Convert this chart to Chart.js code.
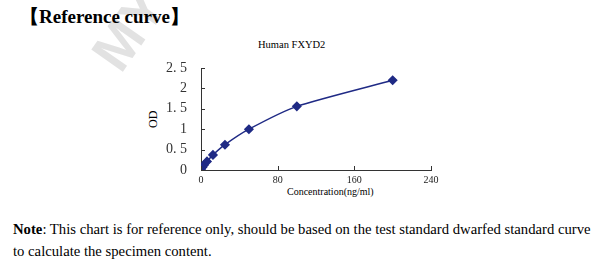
<!DOCTYPE html>
<html>
<head>
<meta charset="utf-8">
<script src="https://cdn.jsdelivr.net/npm/chart.js@4"></script>
<style>
  body { margin: 0; background: #fff; width: 600px; height: 273px; overflow: hidden; position: relative; font-family: "Liberation Serif", serif; }
  #wrap { position: absolute; left: 0; top: 0; width: 600px; height: 273px; }
  .txt { position: absolute; white-space: nowrap; color: #000; }
  #mark { position: absolute; left: 128px; top: 24px; font: bold 56px/56px "Liberation Sans", sans-serif; color: #e2e2e2; transform: rotate(-55deg); transform-origin: 0 100%; }
</style>
</head>
<body>
<div id="mark">MY</div>
<div class="txt" style="left:20px; top:4px; font-weight:bold; font-size:19px;">【Reference curve】</div>
<div class="txt" style="left:258px; top:39px; font-size:10.5px;">Human FXYD2</div>
<div class="txt" style="left:146px; top:128px; font-size:12px; transform: rotate(-90deg); transform-origin: left top;">OD</div>
<div class="txt" style="left:287px; top:186px; font-size:10px;">Concentration(ng/ml)</div>
<div class="txt" style="left:13px; top:221px; font-size:14.7px;"><b>Note</b>: This chart is for reference only, should be based on the test standard dwarfed standard curve</div>
<div class="txt" style="left:13px; top:243px; font-size:14.7px;">to calculate the specimen content.</div>
<div id="wrap"><canvas id="curve"></canvas></div>
<script>
// standard curve readings
const concentrations = [0, 1.56, 3.12, 6.25, 12.5, 25, 50, 100, 200];
const odValues = [0.02, 0.07, 0.12, 0.21, 0.37, 0.62, 1.0, 1.56, 2.2];
const xTicks = [0, 80, 160, 240];
const yTickLabels = ['0', '0. 5', '1', '1. 5', '2', '2. 5'];

// small tick marks pointing into the plot
const innerTicks = {
    id: 'innerTicks',
    afterDraw(chart) {
        const ctx = chart.ctx;
        const x = chart.scales.x, y = chart.scales.y;
        ctx.save();
        ctx.strokeStyle = '#333';
        ctx.lineWidth = 1;
        ctx.beginPath();
        x.ticks.forEach(t => {
            const px = Math.round(x.getPixelForValue(t.value)) + 0.5;
            ctx.moveTo(px, y.bottom);
            ctx.lineTo(px, y.bottom - 4);
        });
        y.ticks.forEach(t => {
            const py = Math.round(y.getPixelForValue(t.value)) + 0.5;
            ctx.moveTo(x.left, py);
            ctx.lineTo(x.left + 4, py);
        });
        ctx.stroke();
        ctx.restore();
    }
};

document.addEventListener('DOMContentLoaded', () => {
    const ctx = document.getElementById('curve').getContext('2d');
    new Chart(ctx, {
        type: 'line',
        data: {
            datasets: [{
                data: concentrations.map((c, i) => ({ x: c, y: odValues[i] })),
                borderColor: '#1f2a85',
                backgroundColor: '#1f2a85',
                borderWidth: 1.5,
                pointStyle: 'rectRot',
                pointRadius: 4,
                tension: 0.2,
                fill: false
            }]
        },
        options: {
            responsive: true,
            maintainAspectRatio: false,
            animation: false,
            layout: { padding: { top: 68, left: 141, right: 169, bottom: 83 } },
            plugins: { legend: { display: false }, tooltip: { enabled: false } },
            scales: {
                x: {
                    type: 'linear',
                    min: 0,
                    max: 240,
                    afterBuildTicks: s => { s.ticks = xTicks.map(v => ({ value: v })); },
                    afterFit: s => { s.height = 20; },
                    grid: { display: true, drawOnChartArea: false, drawTicks: false },
                    border: { color: '#333', width: 1 },
                    ticks: { padding: 4, color: '#222', font: { family: 'Liberation Serif', size: 10 }, maxRotation: 0 }
                },
                y: {
                    min: 0,
                    max: 2.5,
                    afterFit: s => { s.width = 60; },
                    grid: { display: true, drawOnChartArea: false, drawTicks: false },
                    border: { color: '#333', width: 1 },
                    ticks: {
                        stepSize: 0.5,
                        padding: 14,
                        color: '#333',
                        font: { family: 'Liberation Serif', size: 14 },
                        callback: (v, i) => yTickLabels[i]
                    }
                }
            }
        },
        plugins: [innerTicks]
    });
});
</script>
</body>
</html>
